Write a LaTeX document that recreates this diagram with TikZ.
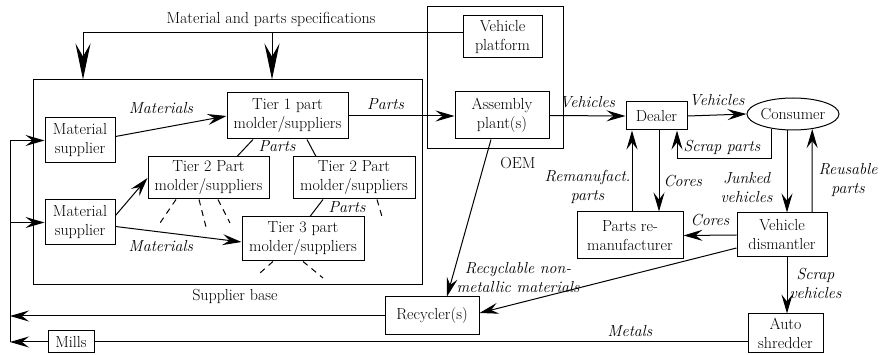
\documentclass[tikz,border=0pt]{standalone}
\usepackage{fontspec}
\usepackage{tikz}
\usetikzlibrary{arrows.meta, shapes.geometric}

\begin{document}
\begin{tikzpicture}[x=1pt, y=-1pt, ->, >={Stealth[length=19pt, width=11pt, inset=7pt]}, line width=1pt,
    font=\fontsize{16}{19}\selectfont,
    box/.style={draw, align=center, inner sep=1pt},
    lbl/.style={font=\fontsize{16}{19}\selectfont\itshape, inner sep=1pt, align=center},
    big/.style={>={Stealth[length=36pt, width=15pt, inset=13pt]}},
    stub/.style={-, dash pattern=on 6pt off 5pt}]
    \useasboundingbox (0,0) rectangle (881,355);

    \node[box, minimum width=389pt, minimum height=205pt] (base) at (227.5,182.5) {};
    \node (baselbl) at (235,296) {Supplier base};
    \node[box, minimum width=70pt, minimum height=45pt] (ms1) at (80,140.5) {Material\\supplier};
    \node[box, minimum width=70pt, minimum height=45pt] (ms2) at (80,222.5) {Material\\supplier};
    \node[box, minimum width=121pt, minimum height=46pt] (tier1) at (287.5,116) {Tier 1 part\\molder/suppliers};
    \node[box, minimum width=121pt, minimum height=42pt] (tier2a) at (208.5,178) {Tier 2 Part\\molder/suppliers};
    \node[box, minimum width=122pt, minimum height=42pt] (tier2b) at (354,178) {Tier 2 Part\\molder/suppliers};
    \node[box, minimum width=122pt, minimum height=44pt] (tier3) at (303,239) {Tier 3 part\\molder/suppliers};

    \node[box, minimum width=136pt, minimum height=142pt] (oem) at (495,78) {};
    \node (oemlbl) at (518,163) {OEM};
    \node[box, minimum width=79pt, minimum height=42pt] (platform) at (502.5,37) {Vehicle\\platform};
    \node[box, minimum width=94pt, minimum height=47pt] (assembly) at (502,115.5) {Assembly\\plant(s)};

    \node[box, minimum width=61pt, minimum height=28pt] (dealer) at (656.5,116) {Dealer};
    \node[box, ellipse, inner sep=0pt, minimum width=92pt, minimum height=32pt] (consumer) at (793,114) {Consumer};
    \node[box, minimum width=106pt, minimum height=47pt] (reman) at (630,235.5) {Parts re-\\manufacturer};
    \node[box, minimum width=90pt, minimum height=44pt] (dismantler) at (782,235) {Vehicle\\dismantler};
    \node[box, minimum width=75pt, minimum height=39pt] (shredder) at (785.5,333.5) {Auto\\shredder};
    \node[box, minimum width=94pt, minimum height=38pt] (recycler) at (432,316) {Recycler(s)};
    \node[box, minimum width=46pt, minimum height=22pt] (mills) at (71,342) {Mills};

    \node (speclbl) at (271,19) {Material and parts specifications};
    \node[lbl] (partslbl) at (277,146) {Parts};
    \node[lbl] (partslbl2) at (347,207) {Parts};

    \coordinate (ret1) at (10,140.5);
    \coordinate (ret2) at (10,222.5);
    \coordinate (spec1) at (83,33);
    \coordinate (spec2) at (272,33);
    \coordinate (d1) at (160,223);
    \coordinate (d2) at (206,227);
    \coordinate (d3) at (230,223);
    \coordinate (d4) at (383,220);
    \coordinate (d5) at (260,273);
    \coordinate (d6) at (323,278);

    \draw[-] ([yshift=4pt]platform.west) -- (spec1);
    \draw[big] (spec1) -- (spec1 |- base.north);
    \draw[big] (spec2) -- (spec2 |- base.north);

    \path ([yshift=4pt]ms1.east) edge node[lbl, pos=.41, above=13pt] {Materials} (tier1.west)
        ([yshift=7pt]ms2.east) edge (tier2a.west)
        ([yshift=-4pt]ms2.east) edge node[lbl, pos=.36, below=7pt] {Materials} ([yshift=-3pt]tier3.west)
        (tier1.east) edge node[lbl, pos=.35, above=5pt] {Parts} (tier1.east -| assembly.west);

    \draw[-] ([xshift=-34.5pt]tier1.south) -- ([xshift=28.5pt]tier2a.north);
    \draw[-] ([xshift=19.5pt]tier1.south) -- ([xshift=-38pt]tier2b.north);
    \draw[-] ([xshift=-31pt]tier2b.south) -- ([xshift=7pt]tier3.north);

    \draw[stub] ([xshift=-32.5pt]tier2a.south) -- (d1);
    \draw[stub] ([xshift=-9.5pt]tier2a.south) -- (d2);
    \draw[stub] ([xshift=9.5pt]tier2a.south) -- (d3);
    \draw[stub] ([xshift=23pt]tier2b.south) -- (d4);
    \draw[stub] ([xshift=-30pt]tier3.south) -- (d5);
    \draw[stub] (tier3.south) -- (d6);

    \path (assembly.east) edge node[lbl, above=6pt] {Vehicles} (dealer.west)
        (dealer.east) edge node[lbl, above=8pt] {Vehicles} (consumer.west)
        ([xshift=-11pt]assembly.south) edge ([xshift=15pt]recycler.north)
        (dismantler.west) edge node[lbl, above=8pt] {Cores} (reman.east)
        ([yshift=-13pt]dismantler.west) edge node[lbl, pos=.85, above=9pt] {Recyclable non-\\metallic materials} ([yshift=3pt]recycler.east);

    \draw ([xshift=2pt]reman.north) -- node[lbl, pos=.3, left] {Remanufact.\\parts} ([xshift=-24.5pt]dealer.south);
    \draw ([xshift=2.5pt]dealer.south) -- node[lbl, pos=.63, right=3pt] {Cores} ([xshift=29pt]reman.north);
    \draw (consumer.214) -- ++(0,30) -| node[lbl, pos=.7, right=5pt] {Scrap parts} ([xshift=20.5pt]dealer.south);
    \draw ([xshift=-6pt]consumer.south) -- node[lbl, pos=.69, left=13pt] {Junked\\vehicles} ([xshift=5pt]dismantler.north);
    \draw ([xshift=30pt]dismantler.north) -- node[lbl, pos=.39, right=5pt] {Reusable\\parts} (consumer.322);
    \draw ([xshift=5pt]dismantler.south) -- node[lbl, pos=.47, right=1pt] {Scrap\\vehicles} ([xshift=1.5pt]shredder.north);

    \draw[-] (shredder.west |- mills.east) -- node[lbl, pos=.18, above=4pt] {Metals} (mills.east);
    \draw (recycler.west) -- (recycler.west -| ret1);
    \draw (mills.west) -- (mills.west -| ret1);
    \draw[-] (ret1) -- (ret1 |- mills.west);
    \draw (ret1) -- (ms1.west);
    \draw (ret2) -- (ms2.west);
\end{tikzpicture}
\end{document}
